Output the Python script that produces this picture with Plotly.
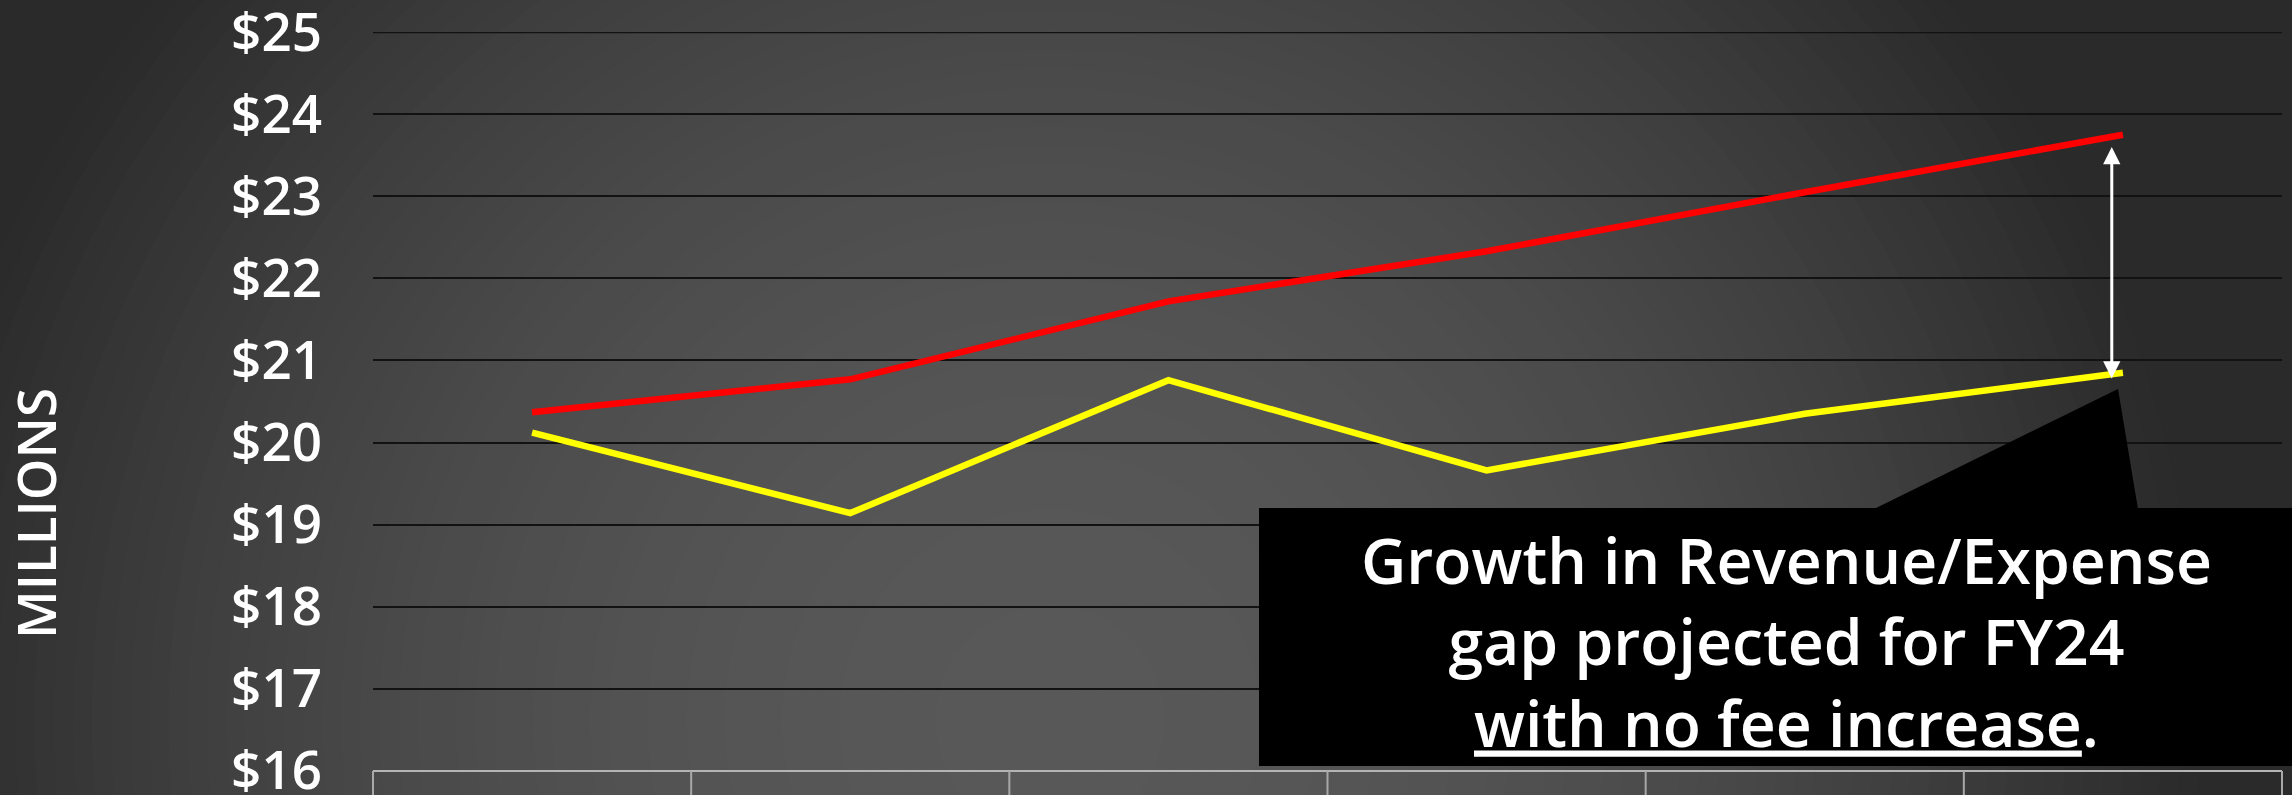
import plotly.graph_objects as go

# ---------------- data ----------------
periods = ["P1", "P2", "P3", "P4", "P5", "P6"]
expense = [20.37, 20.77, 21.72, 22.33, 23.05, 23.75]   # red line
revenue = [20.12, 19.14, 20.76, 19.66, 20.35, 20.85]   # yellow line
table_labels = ["", "", "", "", "No Fee", ""]
y_ticks = [16, 17, 18, 19, 20, 21, 22, 23, 24, 25]
y_tick_text = ["$%d" % v for v in y_ticks]
callout_lines = ["Growth in Revenue/Expense", "gap projected for FY24",
                 "<u>with no fee increase</u>."]

# ---------------- layout geometry (pixels) ----------------
W_FIG, H_FIG = 2292, 795
L, R, T, B = 373, 2282, 32, 771
PW, PH = R - L, B - T
EPS = 0.002


def px2x(p):
    return (p - L) / PW


def py2y(p):
    return (B - p) / PH


FONT = "Open Sans"

fig = go.Figure()

fig.add_trace(go.Scatter(x=periods, y=expense, mode="lines", name="Expense",
                         line=dict(color="#ff0000", width=6.5),
                         hoverinfo="skip", showlegend=False))
fig.add_trace(go.Scatter(x=periods, y=revenue, mode="lines", name="Revenue",
                         line=dict(color="#ffff00", width=6.5),
                         hoverinfo="skip", showlegend=False))

shapes = []

# radial background gradient (opaque bands, largest first)
cx, cy, Rg = 1050, 720, 1150
N = 60
for k in range(N):
    r = Rg * (1 - k / N)
    rm = Rg * (1 - (k + 0.5) / N)
    c = int(round(42 + 46 * (1 - (rm / Rg) ** 2)))
    col = "rgb(%d,%d,%d)" % (c, c, c)
    shapes.append(dict(type="circle", xref="paper", yref="paper", layer="below",
                       x0=px2x(cx - r), x1=px2x(cx + r),
                       y0=py2y(cy + r), y1=py2y(cy - r),
                       fillcolor=col, line=dict(width=0)))

# top gridline ($25), drawn explicitly in case the edge grid is dropped
shapes.append(dict(type="line", xref="paper", yref="y", layer="below",
                   x0=0, x1=1, y0=y_ticks[-1], y1=y_ticks[-1],
                   line=dict(color="#121212", width=2)))

# table border (top line + column dividers)
shapes.append(dict(type="line", xref="paper", yref="paper", layer="above",
                   x0=0, x1=1, y0=0, y1=0, line=dict(color="#b4b4b4", width=2)))
n = len(periods)
for i in range(n + 1):
    shapes.append(dict(type="line", xref="paper", yref="paper", layer="above",
                       x0=i / n, x1=i / n, y0=0, y1=py2y(H_FIG + 5),
                       line=dict(color="#a8a8a8", width=2)))

# callout box with pointer
shapes.append(dict(type="rect", xref="paper", yref="paper", layer="above",
                   x0=px2x(1259), x1=px2x(2300), y0=py2y(766), y1=py2y(508),
                   fillcolor="#000000", line=dict(width=0)))
path = "M %f %f L %f %f L %f %f Z" % (px2x(1874), py2y(509), px2x(2118), py2y(389),
                                       px2x(2138), py2y(509))
shapes.append(dict(type="path", xref="paper", yref="paper", layer="above",
                   path=path, fillcolor="#000000", line=dict(width=0)))

annotations = []
# callout text
annotations.append(dict(xref="paper", yref="paper", x=px2x(1786), y=py2y(641),
                        xanchor="center", yanchor="middle", showarrow=False,
                        text="<br>".join(callout_lines), align="center",
                        font=dict(family=FONT, size=62.5, color="#ffffff", weight=600)))
# MILLIONS axis title
annotations.append(dict(xref="paper", yref="paper", x=px2x(35), y=py2y(514),
                        xanchor="center", yanchor="middle", showarrow=False,
                        text="MILLIONS", textangle=-90,
                        font=dict(family=FONT, size=53, color="#ffffff", weight=600)))
# gap arrow
xa = n - 1 - 0.035
annotations.append(dict(x=xa, y=revenue[-1] - 0.07, ax=xa, ay=expense[-1] - 0.13,
                        xref="x", yref="y", axref="x", ayref="y", text="",
                        showarrow=True, arrowside="end+start", arrowhead=2,
                        arrowsize=1.15, arrowwidth=3, arrowcolor="#ffffff",
                        standoff=0, startstandoff=0))
# table labels (cut off at bottom)
for p, lab in zip(periods, table_labels):
    if lab:
        annotations.append(dict(x=p, xref="x", yref="paper", y=py2y(776),
                                yanchor="top", xanchor="center", showarrow=False,
                                text=lab,
                                font=dict(family=FONT, size=52, color="#ffffff",
                                          weight=600)))

fig.update_layout(
    width=W_FIG, height=H_FIG,
    margin=dict(l=L, r=W_FIG - R, t=T, b=H_FIG - B, pad=0, autoexpand=False),
    paper_bgcolor="#2a2a2a", plot_bgcolor="rgba(0,0,0,0)",
    shapes=shapes, annotations=annotations, showlegend=False,
    xaxis=dict(type="category", range=[-0.5, n - 0.5], showgrid=False,
               showticklabels=False, zeroline=False, showline=False, ticks="",
               automargin=False),
    yaxis=dict(range=[16 - EPS, 25 + EPS], tickvals=y_ticks, ticktext=y_tick_text,
               showgrid=True, gridcolor="#121212", gridwidth=2, zeroline=False,
               showline=False, ticks="", ticklabelstandoff=50,
               ticklabeloverflow="allow", automargin=False,
               tickfont=dict(family=FONT, size=53, color="#ffffff", weight=600)),
)

fig.write_html("out.html", config={"displayModeBar": False},
               post_script="document.body.style.margin='0';document.body.style.overflow='hidden';")
